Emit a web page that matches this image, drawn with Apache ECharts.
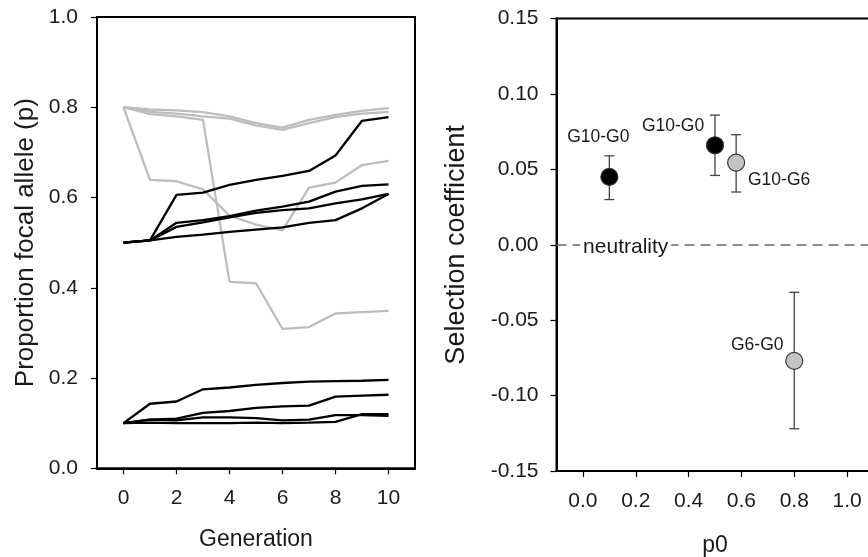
<!DOCTYPE html>
<html>
<head>
<meta charset="utf-8">
<script src="https://cdn.jsdelivr.net/npm/echarts@6/dist/echarts.min.js"></script>
<style>html,body{margin:0;padding:0;background:#fff}#c{width:868px;height:557px}</style>
</head>
<body>
<div id="c"></div>
<script>
// ---------- Left panel data ----------
const generations = [0, 1, 2, 3, 4, 5, 6, 7, 8, 9, 10];
const genTicks = [0, 2, 4, 6, 8, 10];
// grey replicates (p0 = 0.8)
const grey1 = [0.80, 0.795, 0.793, 0.789, 0.780, 0.765, 0.755, 0.772, 0.783, 0.792, 0.798];
const grey2 = [0.80, 0.790, 0.786, 0.780, 0.775, 0.760, 0.750, 0.765, 0.778, 0.786, 0.790];
const grey3 = [0.80, 0.785, 0.780, 0.772, 0.413, 0.410, 0.309, 0.313, 0.343, 0.346, 0.349];
const grey4 = [0.80, 0.639, 0.636, 0.618, 0.560, 0.540, 0.527, 0.622, 0.633, 0.672, 0.681];
// black replicates (p0 = 0.5)
const black5a = [0.50, 0.505, 0.606, 0.611, 0.628, 0.639, 0.648, 0.659, 0.693, 0.770, 0.778];
const black5b = [0.50, 0.505, 0.544, 0.550, 0.559, 0.571, 0.580, 0.591, 0.613, 0.626, 0.629];
const black5c = [0.50, 0.505, 0.535, 0.545, 0.556, 0.566, 0.572, 0.576, 0.587, 0.596, 0.608];
const black5d = [0.50, 0.505, 0.513, 0.518, 0.524, 0.529, 0.534, 0.544, 0.550, 0.576, 0.608];
// black replicates (p0 = 0.1)
const black1a = [0.10, 0.143, 0.148, 0.175, 0.179, 0.185, 0.189, 0.192, 0.193, 0.194, 0.196];
const black1b = [0.10, 0.108, 0.110, 0.123, 0.127, 0.134, 0.137, 0.139, 0.159, 0.161, 0.163];
const black1c = [0.10, 0.108, 0.106, 0.113, 0.113, 0.111, 0.106, 0.108, 0.118, 0.118, 0.116];
const black1d = [0.10, 0.101, 0.100, 0.100, 0.100, 0.101, 0.100, 0.101, 0.103, 0.120, 0.120];
const greyLines = [grey1, grey2, grey3, grey4];
const blackLines = [black5a, black5b, black5c, black5d, black1a, black1b, black1c, black1d];

// ---------- Right panel data ----------
const p0Values = [0.1, 0.5, 0.58, 0.8];
const selCoef = [0.045, 0.066, 0.0545, -0.077];
const selLow = [0.030, 0.046, 0.035, -0.122];
const selHigh = [0.059, 0.086, 0.073, -0.0315];
const pointLabels = ['G10-G0', 'G10-G0', 'G10-G6', 'G6-G0'];
const pointGroup = ['black', 'black', 'grey', 'grey'];
const p0Ticks = [0.0, 0.2, 0.4, 0.6, 0.8, 1.0];
const neutralityLabel = 'neutrality';

// ---------- styles ----------
const FONT = 'Liberation Sans, Arial, sans-serif';
const TXT = '#1a1a1a';
const labelOffsets = [[-11, -40], [-42, -19], [43, 18], [-37, -16]];
const fillColors = { black: '#000', grey: '#c4c4c4' };

const chart = echarts.init(document.getElementById('c'), null, { renderer: 'canvas' });

const series = [];
greyLines.forEach((arr) => {
  series.push({
    type: 'line', xAxisIndex: 0, yAxisIndex: 0, symbol: 'none', silent: true,
    data: generations.map((g, i) => [g, arr[i]]),
    lineStyle: { color: '#bdbdbd', width: 2.3 }, z: 2
  });
});
blackLines.forEach((arr) => {
  series.push({
    type: 'line', xAxisIndex: 0, yAxisIndex: 0, symbol: 'none', silent: true,
    data: generations.map((g, i) => [g, arr[i]]),
    lineStyle: { color: '#000', width: 2.3 }, z: 3
  });
});

// error bars + neutrality line
series.push({
  type: 'custom', xAxisIndex: 1, yAxisIndex: 1, z: 3, silent: true,
  data: p0Values.map((p, i) => [p, selLow[i], selHigh[i]]),
  renderItem: function (params, api) {
    const top = api.coord([api.value(0), api.value(2)]);
    const bot = api.coord([api.value(0), api.value(1)]);
    const w = 5;
    const st = { stroke: '#444', lineWidth: 1.3 };
    return {
      type: 'group', children: [
        { type: 'line', shape: { x1: top[0], y1: top[1], x2: bot[0], y2: bot[1] }, style: st },
        { type: 'line', shape: { x1: top[0] - w, y1: top[1], x2: top[0] + w, y2: top[1] }, style: st },
        { type: 'line', shape: { x1: bot[0] - w, y1: bot[1], x2: bot[0] + w, y2: bot[1] }, style: st }
      ]
    };
  },
  markLine: {
    silent: true, symbol: 'none', label: { show: false },
    lineStyle: { color: '#666', width: 1.5, type: [10, 6], opacity: 1 },
    data: [{ yAxis: 0 }]
  }
});

// neutrality text
series.push({
  type: 'scatter', xAxisIndex: 1, yAxisIndex: 1, z: 6, symbolSize: 0, silent: true,
  itemStyle: { opacity: 1 },
  data: [[0.162, 0]],
  label: {
    show: true, position: 'inside', offset: [0, 2], formatter: neutralityLabel,
    color: TXT, fontSize: 21, fontFamily: FONT, backgroundColor: '#fff', padding: [0, 3]
  }
});

// points
series.push({
  type: 'scatter', xAxisIndex: 1, yAxisIndex: 1, z: 5, symbol: 'circle', symbolSize: 17, silent: true,
  itemStyle: { opacity: 1 },
  data: p0Values.map((p, i) => ({
    value: [p, selCoef[i]],
    itemStyle: { color: fillColors[pointGroup[i]], borderColor: '#333', borderWidth: 1.2, opacity: 1 },
    label: {
      show: true, position: 'inside', offset: labelOffsets[i], formatter: pointLabels[i],
      color: TXT, fontSize: 17.5, fontFamily: FONT
    }
  }))
});

const axisLineStyle = { show: true, onZero: false, lineStyle: { color: '#000', width: 2 } };
const tickStyle = { show: true, inside: false, length: 6, lineStyle: { color: '#000', width: 1.2 } };

chart.setOption({
  animation: false,
  backgroundColor: '#fff',
  grid: [
    { left: 97, top: 17, width: 318, height: 451.3, show: true, borderColor: '#000', borderWidth: 2, backgroundColor: 'transparent', containLabel: false, outerBoundsMode: 'none' },
    { left: 556.5, top: 18.6, width: 317, height: 452.4, show: true, borderColor: '#000', borderWidth: 2, backgroundColor: 'transparent', containLabel: false, outerBoundsMode: 'none' }
  ],
  xAxis: [
    {
      gridIndex: 0, type: 'value', min: -1, max: 11,
      name: 'Generation', nameLocation: 'middle', nameGap: 60,
      nameTextStyle: { color: TXT, fontSize: 23, fontFamily: FONT },
      axisLine: axisLineStyle,
      axisTick: Object.assign({}, tickStyle, { customValues: genTicks }),
      axisLabel: { customValues: genTicks, margin: 19, color: TXT, fontSize: 21, fontFamily: FONT },
      splitLine: { show: false }
    },
    {
      gridIndex: 1, type: 'value', min: -0.1, max: 1.1,
      name: 'p0', nameLocation: 'middle', nameGap: 63,
      nameTextStyle: { color: TXT, fontSize: 23, fontFamily: FONT },
      axisLine: axisLineStyle,
      axisTick: Object.assign({}, tickStyle, { customValues: p0Ticks }),
      axisLabel: { customValues: p0Ticks, margin: 20, color: TXT, fontSize: 21, fontFamily: FONT, formatter: (v) => v.toFixed(1) },
      splitLine: { show: false }
    }
  ],
  yAxis: [
    {
      gridIndex: 0, type: 'value', min: 0, max: 1, interval: 0.2,
      name: 'Proportion focal allele (p)', nameLocation: 'middle', nameGap: 58,
      nameTextStyle: { color: TXT, fontSize: 26, fontFamily: FONT },
      axisLine: axisLineStyle, axisTick: tickStyle,
      axisLabel: { margin: 19, color: TXT, fontSize: 21, fontFamily: FONT, formatter: (v) => v.toFixed(1) },
      splitLine: { show: false }
    },
    {
      gridIndex: 1, type: 'value', min: -0.15, max: 0.15, interval: 0.05,
      name: 'Selection coefficient', nameLocation: 'middle', nameGap: 86,
      nameTextStyle: { color: TXT, fontSize: 27, fontFamily: FONT },
      axisLine: axisLineStyle, axisTick: tickStyle,
      axisLabel: { margin: 18, color: TXT, fontSize: 21, fontFamily: FONT, formatter: (v) => v.toFixed(2) },
      splitLine: { show: false }
    }
  ],
  series: series
});
</script>
</body>
</html>
